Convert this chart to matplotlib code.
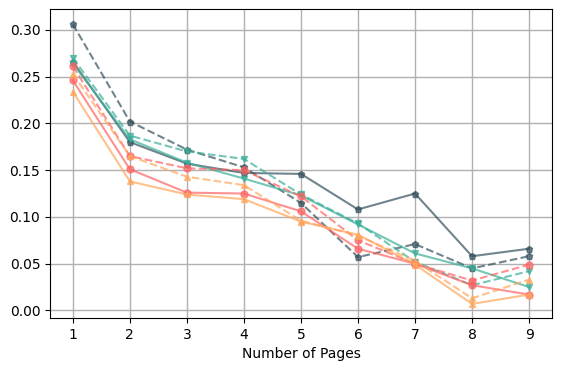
import matplotlib
matplotlib.use('Agg')
import matplotlib.pyplot as plt

pages = [1, 2, 3, 4, 5, 6, 7, 8, 9]

dark_solid = [0.266, 0.180, 0.157, 0.147, 0.146, 0.108, 0.125, 0.058, 0.066]
dark_dashed = [0.306, 0.202, 0.172, 0.153, 0.115, 0.057, 0.071, 0.045, 0.058]
teal_solid = [0.264, 0.183, 0.158, 0.141, 0.123, 0.092, 0.061, 0.045, 0.025]
teal_dashed = [0.270, 0.187, 0.170, 0.162, 0.124, 0.093, 0.052, 0.027, 0.042]
red_solid = [0.246, 0.151, 0.126, 0.125, 0.106, 0.066, 0.050, 0.027, 0.017]
red_dashed = [0.261, 0.165, 0.152, 0.150, 0.122, 0.075, 0.050, 0.032, 0.049]
orange_solid = [0.234, 0.138, 0.124, 0.119, 0.095, 0.081, 0.049, 0.007, 0.017]
orange_dashed = [0.253, 0.165, 0.143, 0.134, 0.096, 0.080, 0.053, 0.013, 0.033]

c_dark = '#34505d'
c_teal = '#3aae98'
c_red = '#ff6363'
c_orange = '#ffa65c'

series = [
    (dark_solid, c_dark, '-', 'p'),
    (dark_dashed, c_dark, '--', 'p'),
    (teal_solid, c_teal, '-', 'v'),
    (teal_dashed, c_teal, '--', 'v'),
    (red_solid, c_red, '-', 'o'),
    (red_dashed, c_red, '--', 'o'),
    (orange_solid, c_orange, '-', '^'),
    (orange_dashed, c_orange, '--', '^'),
]

fig, ax = plt.subplots(figsize=(5.62, 3.71), dpi=100)
fig.subplots_adjust(left=0.089, right=0.982, top=0.975, bottom=0.143)

for vals, col, ls, mk in series:
    ax.plot(pages, vals, color=col, linestyle=ls, marker=mk, markersize=5,
            linewidth=1.5, alpha=0.7)

ax.set_xticks(pages)
ax.set_ylim(-0.008, 0.322)
ax.set_yticks([0.00, 0.05, 0.10, 0.15, 0.20, 0.25, 0.30])
ax.grid(True, color='#b0b0b0', linewidth=1)
ax.set_axisbelow(True)
ax.set_xlabel('Number of Pages')

fig.savefig('out.png')
